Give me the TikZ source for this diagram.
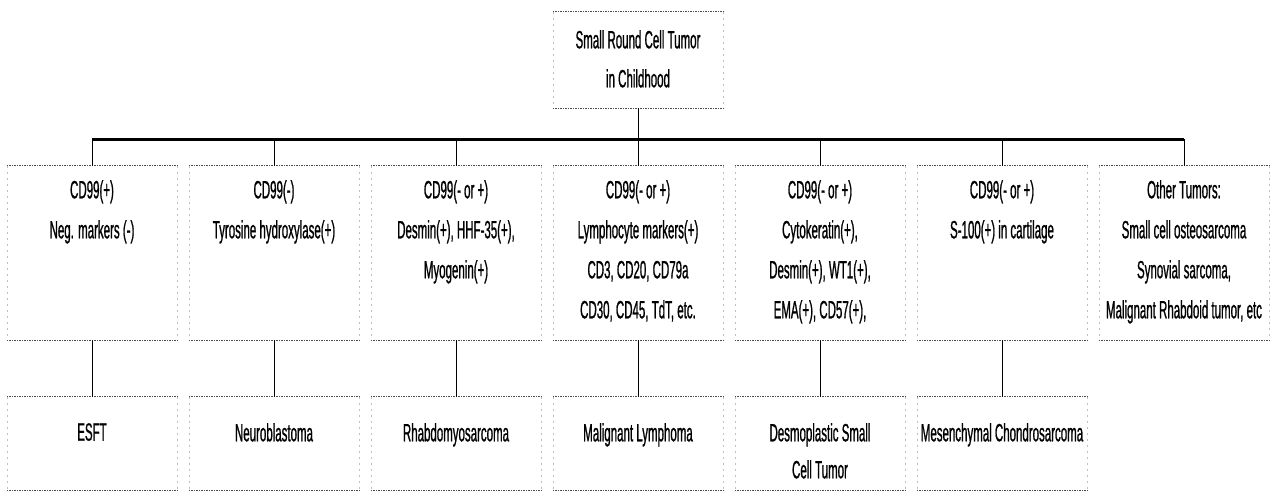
\documentclass[tikz,border=0pt]{standalone}
\usepackage{fontspec}
\setmainfont{Liberation Sans}[FakeStretch=0.46,FakeBold=0.8]
\begin{document}
\begin{tikzpicture}[x=1pt,y=-1pt,
  boxnode/.style={minimum width=170pt, inner sep=0pt, draw=none},
  rowone/.style={boxnode, minimum height=174pt},
  rowtwo/.style={boxnode, minimum height=93pt},
  lbl/.style={anchor=north, inner sep=0pt, align=center, text=black, font=\fontsize{25}{40}\selectfont},
  lbltwo/.style={lbl, font=\fontsize{25}{37}\selectfont},
  hedge/.style={draw=black!70, line width=1pt, dash pattern=on 1.5pt off 1pt},
  vedge/.style={draw=black!25, line width=0.6pt, dash pattern=on 2pt off 4pt},
  link/.style={draw=black, line width=1pt},
  bar/.style={draw=black, line width=3pt}
]
\useasboundingbox (0,0) rectangle (1276,499);
\fill[white] (0,0) rectangle (1276,499);

% root
\node[boxnode, minimum height=96pt] (top) at (638,60) {};
\node[lbl, font=\fontsize{25}{39}\selectfont] (toptext) at (638,30) {Small Round Cell Tumor\\in Childhood};

% row one boxes
\node[rowone] (a1) at (92,253) {};
\node[rowone] (a2) at (274,253) {};
\node[rowone] (a3) at (456,253) {};
\node[rowone] (a4) at (638,253) {};
\node[rowone] (a5) at (820,253) {};
\node[rowone] (a6) at (1002,253) {};
\node[rowone] (a7) at (1184,253) {};

\node[lbl] (ta1) at (92,180) {CD99(+)\\Neg. markers (-)};
\node[lbl] (ta2) at (274,180) {CD99(-)\\Tyrosine hydroxylase(+)};
\node[lbl] (ta3) at (456,180) {CD99(- or +)\\Desmin(+), HHF-35(+),\\Myogenin(+)};
\node[lbl] (ta4) at (638,180) {CD99(- or +)\\Lymphocyte markers(+)\\CD3, CD20, CD79a\\CD30, CD45, TdT, etc.};
\node[lbl] (ta5) at (820,180) {CD99(- or +)\\Cytokeratin(+),\\Desmin(+), WT1(+),\\EMA(+), CD57(+),};
\node[lbl] (ta6) at (1002,180) {CD99(- or +)\\S-100(+) in cartilage};
\node[lbl] (ta7) at (1184,180) {Other Tumors:\\Small cell osteosarcoma\\Synovial sarcoma,\\Malignant Rhabdoid tumor, etc};

% row two boxes
\node[rowtwo] (b1) at (92,443.5) {};
\node[rowtwo] (b2) at (274,443.5) {};
\node[rowtwo] (b3) at (456,443.5) {};
\node[rowtwo] (b4) at (638,443.5) {};
\node[rowtwo] (b5) at (820,443.5) {};
\node[rowtwo] (b6) at (1002,443.5) {};

\node[lbltwo] (tb1) at (92,423) {ESFT};
\node[lbltwo] (tb2) at (274,423) {Neuroblastoma};
\node[lbltwo] (tb3) at (456,423) {Rhabdomyosarcoma};
\node[lbltwo] (tb4) at (638,423) {Malignant Lymphoma};
\node[lbltwo] (tb5) at (820,423) {Desmoplastic Small\\Cell Tumor};
\node[lbltwo] (tb6) at (1002,423) {Mesenchymal Chondrosarcoma};

% box borders
\foreach \n in {top,a1,a2,a3,a4,a5,a6,a7,b1,b2,b3,b4,b5,b6}{
  \draw[vedge] (\n.north west) -- (\n.south west);
  \draw[vedge] (\n.north east) -- (\n.south east);
  \draw[hedge] (\n.north west) -- (\n.north east);
  \draw[hedge] (\n.south west) -- (\n.south east);
}

% connectors
\coordinate (barL) at (92,139);
\coordinate (barR) at (1184,139);
\draw[bar] (barL) -- (barR);
\draw[link] (top.south) -- (top.south |- barL);
\foreach \i in {1,...,7}{
  \draw[link] (a\i.north |- barL) -- (a\i.north);
}
\foreach \i in {1,...,6}{
  \draw[link] (a\i.south) -- (b\i.north);
}
\end{tikzpicture}
\end{document}
